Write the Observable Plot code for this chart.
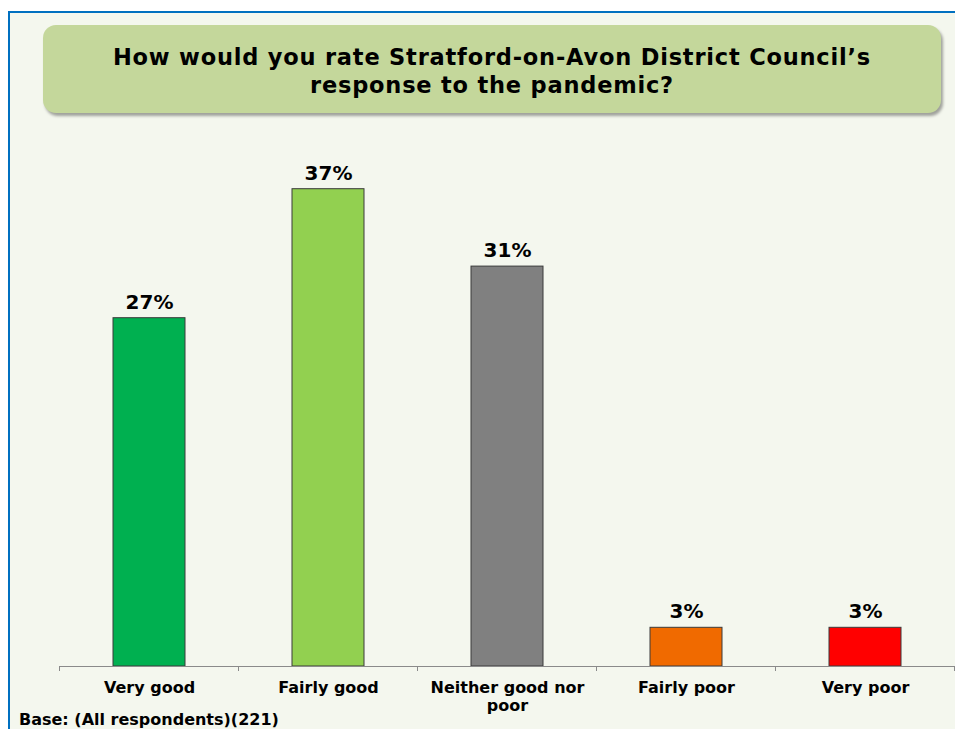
<!DOCTYPE html>
<html><head><meta charset="utf-8">
<script src="https://cdn.jsdelivr.net/npm/d3@7"></script>
<script src="https://cdn.jsdelivr.net/npm/@observablehq/plot@0.6"></script>
<style>
html,body{margin:0;padding:0;background:#fff;}
#wrap{position:relative;width:955px;height:729px;overflow:hidden;font-family:Verdana,"DejaVu Sans",sans-serif;}
#frame{position:absolute;left:8px;top:11px;width:960px;height:730px;background:#F4F7EE;border-left:2px solid #0070C0;border-top:2px solid #0070C0;}
#title{position:absolute;left:43px;top:25px;width:898px;height:88px;background:#C4D79B;border-radius:13px;box-shadow:2px 3px 3px rgba(0,0,0,0.35);display:flex;align-items:center;justify-content:center;text-align:center;font-weight:bold;font-size:22.5px;letter-spacing:0.8px;line-height:28px;color:#000;}
#title span{display:block;margin-top:4px;}
#chart{position:absolute;left:0;top:0;}
#base{position:absolute;left:19px;top:712px;font-weight:bold;font-size:16px;line-height:1;color:#000;}
</style></head>
<body>
<div id="wrap">
<div id="frame"></div>
<div id="title"><span>How would you rate Stratford-on-Avon District Council’s<br>response to the pandemic?</span></div>
<div id="chart"></div>
<div id="base">Base: (All respondents)(221)</div>
</div>
<script>
const categories = ["Very good", "Fairly good", "Neither good nor poor", "Fairly poor", "Very poor"];
const values = [27, 37, 31, 3, 3];
const colors = ["#00B050", "#92D050", "#808080", "#F06A00", "#FF0000"];
const tickLabels = ["Very good", "Fairly good", "Neither good nor\npoor", "Fairly poor", "Very poor"];

const data = categories.map((c, i) => ({category: c, value: values[i], color: colors[i]}));

const boundaryTicks = (index, scales, vals, dims) => {
  const x = scales.x, y = scales.y;
  const step = x.step();
  const g = d3.create("svg:g");
  const y0 = y(0);
  const xs = categories.map(c => x(c) + x.bandwidth() / 2 - step / 2);
  xs.push(x(categories[categories.length - 1]) + x.bandwidth() / 2 + step / 2);
  for (const xv of xs) {
    g.append("line").attr("x1", xv).attr("x2", xv).attr("y1", y0).attr("y2", y0 + 5)
      .attr("stroke", "#8a8a8a").attr("stroke-width", 1);
  }
  return g.node();
};

const chart = Plot.plot({
  width: 955,
  height: 729,
  marginLeft: 59,
  marginRight: 1,
  marginTop: 150,
  marginBottom: 63,
  style: {background: "transparent", fontFamily: "Verdana, 'DejaVu Sans', sans-serif"},
  x: {domain: categories, paddingInner: 0.6, paddingOuter: 0.3, label: null},
  y: {domain: [0, 40], axis: null},
  marks: [
    Plot.barY(data, {x: "category", y: "value", fill: "color", stroke: "#3a3a3a", strokeWidth: 1}),
    Plot.text(data, {x: "category", y: "value", text: d => d.value + "%", dy: -16, fontSize: 20, fontWeight: "bold", fill: "#000"}),
    Plot.ruleY([0], {stroke: "#8a8a8a", strokeWidth: 1.2}),
    boundaryTicks,
    Plot.axisX({tickSize: 0, tickPadding: 14, fontSize: 16, fontWeight: "bold", fill: "#000", lineHeight: 1.1,
      tickFormat: (d) => tickLabels[categories.indexOf(d)], label: null})
  ]
});
document.getElementById("chart").appendChild(chart);
</script>
</body></html>
